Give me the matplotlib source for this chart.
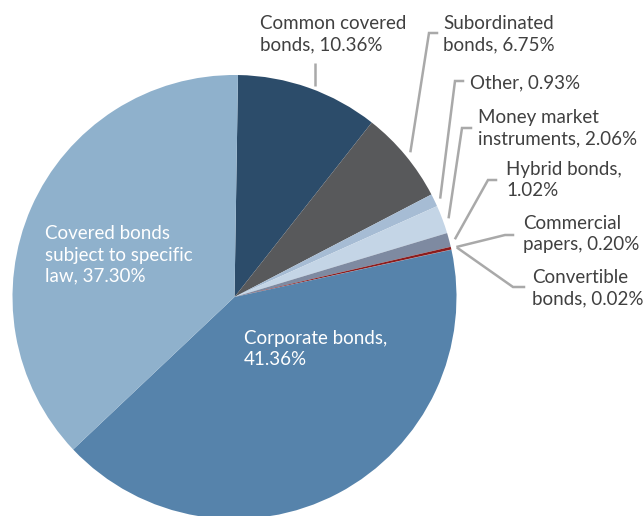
import numpy as np
import matplotlib
matplotlib.use("Agg")
import matplotlib.pyplot as plt

plt.rcParams['font.family'] = ['Lato', 'DejaVu Sans']

# data, clockwise from the top
categories = ["Common covered bonds", "Subordinated bonds", "Other",
              "Money market instruments", "Hybrid bonds", "Commercial papers",
              "Convertible bonds", "Corporate bonds",
              "Covered bonds subject to specific law"]
shares = [10.36, 6.75, 0.93, 2.06, 1.02, 0.20, 0.02, 41.36, 37.30]
labels = ["Common covered\nbonds, 10.36%", "Subordinated\nbonds, 6.75%",
          "Other, 0.93%", "Money market\ninstruments, 2.06%",
          "Hybrid bonds,\n1.02%", "Commercial\npapers, 0.20%",
          "Convertible\nbonds, 0.02%", "Corporate bonds,\n41.36%",
          "Covered bonds\nsubject to specific\nlaw, 37.30%"]
colors = ["#2c4c6a", "#58595b", "#a6bcd4", "#c4d5e6", "#7e8aa1",
          "#8b1c1c", "#b03030", "#5683ab", "#8fb1cc"]

W, H = 644, 516
fig = plt.figure(figsize=(W / 100, H / 100), dpi=100)
ax = fig.add_axes([0, 0, 1, 1])

cx, cy, R = 234.5, H - 297, 222
start = 89.1
wedges, _ = ax.pie(shares, colors=colors, startangle=start, counterclock=False,
                   radius=R, center=(cx, cy), frame=True,
                   wedgeprops=dict(linewidth=0))
ax.set_xlim(0, W)
ax.set_ylim(0, H)
ax.set_aspect('equal')
ax.axis('off')

def P(x, y):
    return x, H - y

def edge_point(w, k=1.03):
    a = np.deg2rad((w.theta1 + w.theta2) / 2)
    return cx + R * k * np.cos(a), cy + R * k * np.sin(a)

txt = dict(fontsize=13.5, color="#404040", va='center', ha='left',
           linespacing=1.3)
lc = "#a9a9a9"

# label layout: text anchor, elbow, stub end (pixel coords)
layout = {
    1: ((443, 34), (429, 33), (437, 33)),
    2: ((470, 83), (455, 81), (463, 81)),
    3: ((478, 128), (462, 128), (471, 128)),
    4: ((506, 180), (488, 180), (496, 180)),
    5: ((523, 234), (505, 235), (513, 235)),
    6: ((532, 288), (513, 287), (524, 287)),
}

# common covered bonds: straight vertical leader
ax.plot([315, 315], [H - 63, H - 86], color=lc, lw=1.8, solid_capstyle='butt')
ax.text(*P(260, 34), labels[0], **txt)

for i, (t, elbow, stub) in layout.items():
    ex, ey = edge_point(wedges[i])
    xs = [ex, elbow[0], stub[0]]
    ys = [ey, H - elbow[1], H - stub[1]]
    ax.plot(xs, ys, color=lc, lw=1.8, solid_joinstyle='miter')
    ax.text(*P(*t), labels[i], **txt)

inner = dict(txt, color="white")
ax.text(*P(244, 349), labels[7], **inner)
ax.text(*P(45, 255), labels[8], **inner)

fig.savefig("out.png", dpi=100)
